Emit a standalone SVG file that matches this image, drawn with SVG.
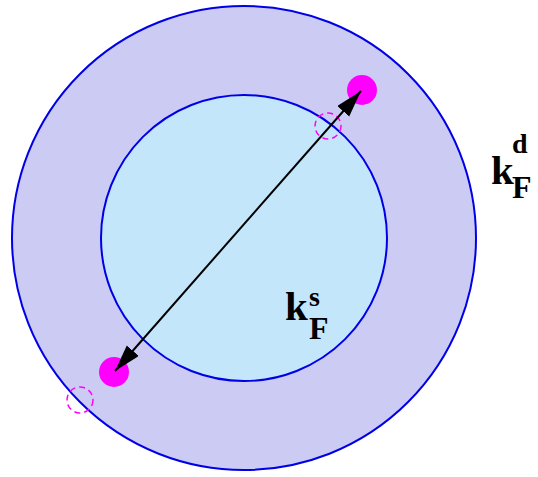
<svg xmlns="http://www.w3.org/2000/svg" width="538" height="477" viewBox="0 0 538 477">
<style>
.ring{stroke:#0000e6;stroke-width:2}
.dot{fill:#ff00ff}
.dash{fill:none;stroke:#ff00ff;stroke-width:1.5;stroke-dasharray:6 4}
.lbl{font-family:"Liberation Serif","Times New Roman",serif;font-weight:bold;fill:#000}
</style>
<defs>
<marker id="ah" markerUnits="userSpaceOnUse" markerWidth="28" markerHeight="18" refX="27" refY="8" orient="auto-start-reverse">
<path d="M0,0 L27,8 L0,16 z" fill="#000"/>
</marker>
</defs>
<rect width="538" height="477" fill="#fff"/>
<g id="outer"><circle class="ring" cx="244" cy="238" r="232" fill="#cccbf4"/></g>
<g id="inner"><circle class="ring" cx="244" cy="238" r="143" fill="#c3e6fb"/></g>
<g id="p1"><circle class="dot" cx="362" cy="90" r="15"/></g>
<g id="p2"><circle class="dot" cx="114" cy="372" r="15"/></g>
<g id="h1"><circle class="dash" cx="328" cy="126" r="13"/></g>
<g id="h2"><circle class="dash" cx="80" cy="400" r="13"/></g>
<g id="connectors">
<line x1="361" y1="91" x2="115" y2="371" stroke="#000" stroke-width="2" marker-start="url(#ah)" marker-end="url(#ah)"/>
</g>
<g id="label-ks">
<text class="lbl" x="285" y="320" font-size="41">k</text>
<text class="lbl" x="309" y="306" font-size="28">s</text>
<text class="lbl" x="309" y="339" font-size="32">F</text>
</g>
<g id="label-kd">
<text class="lbl" x="491" y="184" font-size="41">k</text>
<text class="lbl" x="512" y="153" font-size="28">d</text>
<text class="lbl" x="512" y="198" font-size="32">F</text>
</g>
</svg>
